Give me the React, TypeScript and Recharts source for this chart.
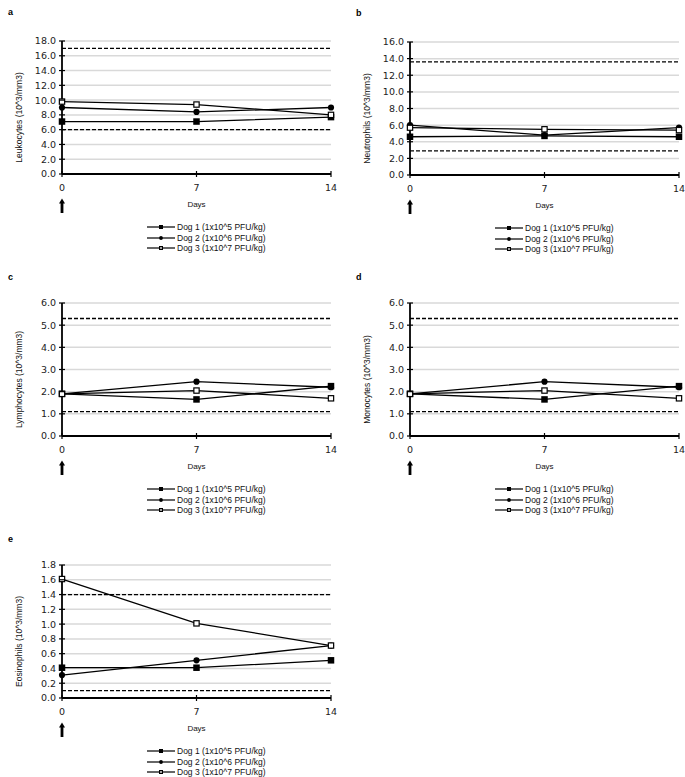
import {
  LineChart,
  Line,
  XAxis,
  YAxis,
  CartesianGrid,
  ReferenceLine,
  Legend,
} from "recharts";

// sampling days and legend names
const DAYS = [0, 7, 14];
const SERIES_NAMES = [
  "Dog 1 (1x10^5 PFU/kg)",
  "Dog 2 (1x10^6 PFU/kg)",
  "Dog 3 (1x10^7 PFU/kg)",
];

// a - leukocytes
const LEUKO_DOG1 = [7.1, 7.1, 7.7];
const LEUKO_DOG2 = [9.0, 8.4, 9.0];
const LEUKO_DOG3 = [9.8, 9.4, 8.0];
const LEUKO_TICKS = [0, 2, 4, 6, 8, 10, 12, 14, 16, 18];
const LEUKO_REF = [6.0, 17.0];

// b - neutrophils
const NEUTRO_DOG1 = [4.6, 4.7, 4.6];
const NEUTRO_DOG2 = [6.0, 4.8, 5.7];
const NEUTRO_DOG3 = [5.7, 5.5, 5.4];
const NEUTRO_TICKS = [0, 2, 4, 6, 8, 10, 12, 14, 16];
const NEUTRO_REF = [2.9, 13.6];

// c - lymphocytes
const LYMPH_DOG1 = [1.9, 1.65, 2.25];
const LYMPH_DOG2 = [1.9, 2.45, 2.2];
const LYMPH_DOG3 = [1.9, 2.05, 1.7];
const LYMPH_TICKS = [0, 1, 2, 3, 4, 5, 6];
const LYMPH_REF = [1.1, 5.3];

// d - monocytes
const MONO_DOG1 = [1.9, 1.65, 2.25];
const MONO_DOG2 = [1.9, 2.45, 2.2];
const MONO_DOG3 = [1.9, 2.05, 1.7];
const MONO_TICKS = [0, 1, 2, 3, 4, 5, 6];
const MONO_REF = [1.1, 5.3];

// e - eosinophils
const EOS_DOG1 = [0.41, 0.41, 0.51];
const EOS_DOG2 = [0.31, 0.51, 0.71];
const EOS_DOG3 = [1.61, 1.01, 0.71];
const EOS_TICKS = [0, 0.2, 0.4, 0.6, 0.8, 1.0, 1.2, 1.4, 1.6, 1.8];
const EOS_REF = [0.1, 1.4];

const TICK_FONT = "'DejaVu Sans', sans-serif";
const LABEL_FONT = "'Liberation Sans', Arial, sans-serif";
const MARKERS = ["filledSquare", "circle", "openSquare"];

const CHART_W = 340;
const CHART_H = 232;
const MARGIN_TOP = 10;

function makeRows(d1: number[], d2: number[], d3: number[]) {
  return DAYS.map((day, i) => ({ day, dog1: d1[i], dog2: d2[i], dog3: d3[i] }));
}

function Marker({ kind, cx, cy, size }: { kind: string; cx: number; cy: number; size: number }) {
  if (cx == null || cy == null) return null;
  const h = size / 2;
  if (kind === "circle") {
    return <circle cx={cx} cy={cy} r={h * 0.95} fill="#000" />;
  }
  if (kind === "openSquare") {
    return (
      <rect
        x={cx - h + 0.6}
        y={cy - h + 0.6}
        width={size - 1.2}
        height={size - 1.2}
        fill="#fff"
        stroke="#000"
        strokeWidth={1.2}
      />
    );
  }
  return <rect x={cx - h} y={cy - h} width={size} height={size} fill="#000" />;
}

const YTick = (props: any) => {
  const { x, y, payload } = props;
  return (
    <g>
      <line x1={x - 3} x2={x + 3} y1={y} y2={y} stroke="#000" strokeWidth={1.2} />
      <text
        x={x - 6}
        y={y}
        dy="0.36em"
        textAnchor="end"
        fontSize={9.5}
        fontFamily={TICK_FONT}
        fill="#222"
      >
        {Number(payload.value).toFixed(1)}
      </text>
    </g>
  );
};

const XTick = (props: any) => {
  const { x, y, payload } = props;
  return (
    <g>
      <line x1={x} x2={x} y1={y - 3} y2={y + 3} stroke="#000" strokeWidth={1.2} />
      <text
        x={x}
        y={y + 17}
        textAnchor="middle"
        fontSize={9.5}
        fontFamily={TICK_FONT}
        fill="#222"
      >
        {payload.value}
      </text>
      {payload.value === 0 && (
        <g fill="#000">
          <rect x={x - 1.4} y={y + 28} width={2.8} height={11} />
          <polygon points={`${x - 3},${y + 29.5} ${x},${y + 24.5} ${x + 3},${y + 29.5}`} />
        </g>
      )}
    </g>
  );
};

function LegendBox() {
  return (
    <div style={{ fontFamily: LABEL_FONT, fontSize: 8.5, color: "#111" }}>
      {SERIES_NAMES.map((name, i) => (
        <div key={name} style={{ display: "flex", alignItems: "center", height: 10.5 }}>
          <svg width={30} height={10} style={{ display: "block" }}>
            <line x1={0} x2={28} y1={5} y2={5} stroke="#000" strokeWidth={1.2} />
            <Marker kind={MARKERS[i]} cx={14} cy={5} size={4} />
          </svg>
          <span style={{ whiteSpace: "pre", lineHeight: "10px" }}>{name}</span>
        </div>
      ))}
    </div>
  );
}

type PanelProps = {
  left: number;
  plotTop: number;
  yLabel: string;
  dog1: number[];
  dog2: number[];
  dog3: number[];
  ticks: number[];
  refs: number[];
};

function Panel({ left, plotTop, yLabel, dog1, dog2, dog3, ticks, refs }: PanelProps) {
  const rows = makeRows(dog1, dog2, dog3);
  const keys = ["dog1", "dog2", "dog3"];
  return (
    <div style={{ position: "absolute", left, top: plotTop - MARGIN_TOP }}>
      <LineChart
        width={CHART_W}
        height={CHART_H}
        data={rows}
        margin={{ top: MARGIN_TOP, right: 9, left: 0, bottom: 29 }}
      >
        <CartesianGrid vertical={false} stroke="#d9d9d9" strokeWidth={1.5} />
        <XAxis
          dataKey="day"
          type="number"
          domain={[0, 14]}
          ticks={DAYS}
          interval={0}
          height={60}
          tickSize={0}
          tickMargin={0}
          tickLine={false}
          tick={<XTick />}
          axisLine={{ stroke: "#000", strokeWidth: 1.8 }}
          label={{
            value: "Days",
            position: "insideTop",
            offset: 27,
            fontSize: 8,
            fontFamily: LABEL_FONT,
            fill: "#111",
          }}
        />
        <YAxis
          type="number"
          domain={[ticks[0], ticks[ticks.length - 1]]}
          ticks={ticks}
          interval={0}
          width={62}
          tickSize={0}
          tickMargin={0}
          tickLine={false}
          tick={<YTick />}
          axisLine={{ stroke: "#000", strokeWidth: 1.8 }}
          label={{
            value: yLabel,
            angle: -90,
            position: "center",
            dx: -12,
            dy: 10,
            fontSize: 8.5,
            fontFamily: LABEL_FONT,
            fill: "#111",
          }}
        />
        {refs.map((r) => (
          <ReferenceLine
            key={r}
            y={r}
            stroke="#000"
            strokeWidth={1.3}
            strokeDasharray="4 2"
            ifOverflow="extendDomain"
          />
        ))}
        {keys.map((k, i) => (
          <Line
            key={k}
            type="linear"
            dataKey={k}
            name={SERIES_NAMES[i]}
            stroke="#000"
            strokeWidth={1.3}
            isAnimationActive={false}
            activeDot={false}
            dot={(p: any) => (
              <Marker key={`${k}-${p.index}`} kind={MARKERS[i]} cx={p.cx} cy={p.cy} size={6.5} />
            )}
          />
        ))}
        <Legend
          verticalAlign="middle"
          align="center"
          layout="horizontal"
          wrapperStyle={{ top: 191, left: 147, width: 190 }}
          content={() => <LegendBox />}
        />
      </LineChart>
    </div>
  );
}

function Letter({ text, left, top }: { text: string; left: number; top: number }) {
  return (
    <div
      style={{
        position: "absolute",
        left,
        top,
        fontFamily: LABEL_FONT,
        fontWeight: "bold",
        fontSize: 9,
        lineHeight: "9px",
        color: "#000",
      }}
    >
      {text}
    </div>
  );
}

export default function App() {
  return (
    <div
      style={{
        position: "absolute",
        left: 0,
        top: 0,
        width: 685,
        height: 777,
        overflow: "hidden",
        background: "#fff",
      }}
    >
      <Letter text="a" left={8} top={8} />
      <Letter text="b" left={356} top={9} />
      <Letter text="c" left={8} top={273} />
      <Letter text="d" left={356} top={273} />
      <Letter text="e" left={8} top={535} />

      <Panel
        left={0}
        plotTop={41}
        yLabel="Leukocytes (10^3/mm3)"
        dog1={LEUKO_DOG1}
        dog2={LEUKO_DOG2}
        dog3={LEUKO_DOG3}
        ticks={LEUKO_TICKS}
        refs={LEUKO_REF}
      />
      <Panel
        left={348}
        plotTop={42}
        yLabel="Neutrophils (10^3/mm3)"
        dog1={NEUTRO_DOG1}
        dog2={NEUTRO_DOG2}
        dog3={NEUTRO_DOG3}
        ticks={NEUTRO_TICKS}
        refs={NEUTRO_REF}
      />
      <Panel
        left={0}
        plotTop={303}
        yLabel="Lymphocytes (10^3/mm3)"
        dog1={LYMPH_DOG1}
        dog2={LYMPH_DOG2}
        dog3={LYMPH_DOG3}
        ticks={LYMPH_TICKS}
        refs={LYMPH_REF}
      />
      <Panel
        left={348}
        plotTop={303}
        yLabel="Monocytes (10^3/mm3)"
        dog1={MONO_DOG1}
        dog2={MONO_DOG2}
        dog3={MONO_DOG3}
        ticks={MONO_TICKS}
        refs={MONO_REF}
      />
      <Panel
        left={0}
        plotTop={565}
        yLabel="Eosinophils (10^3/mm3)"
        dog1={EOS_DOG1}
        dog2={EOS_DOG2}
        dog3={EOS_DOG3}
        ticks={EOS_TICKS}
        refs={EOS_REF}
      />
    </div>
  );
}
